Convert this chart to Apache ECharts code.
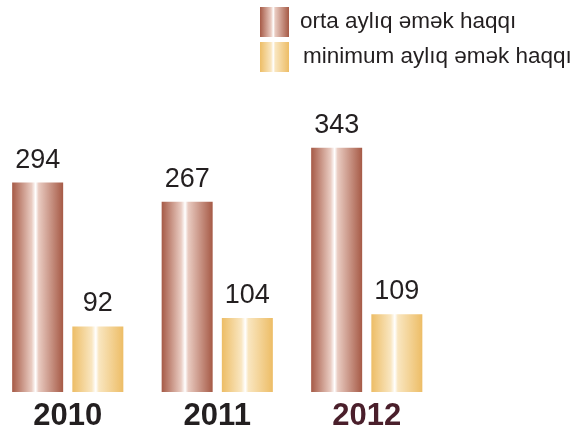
<!DOCTYPE html>
<html>
<head>
<meta charset="utf-8">
<script src="https://cdn.jsdelivr.net/npm/echarts@6/dist/echarts.min.js"></script>
<style>
  html, body { margin: 0; padding: 0; background: #fff; overflow: hidden; }
  /* shifted a few px left so the first bar can sit near the edge */
  #chart { width: 589px; height: 433px; margin-left: -7px; }
</style>
</head>
<body>
<div id="chart"></div>
<script>
// data
const years = ['2010', '2011', '2012'];
const seriesNames = ['orta aylıq əmək haqqı', 'minimum aylıq əmək haqqı'];
const avgWage = [294, 267, 343];
const minWage = [92, 104, 109];

const FONT = 'Liberation Sans, Arial, sans-serif';

// cylinder-ish horizontal gradient, white streak a bit left of center
function shade(edge, mid) {
  return new echarts.graphic.LinearGradient(0, 0, 1, 0, [
    { offset: 0, color: edge },
    { offset: 0.38, color: mid },
    { offset: 0.46, color: '#ffffff' },
    { offset: 0.52, color: mid },
    { offset: 1, color: edge },
  ]);
}

const chart = echarts.init(document.getElementById('chart'), null, { renderer: 'canvas' });

const labelStyle = {
  show: true,
  position: 'top',
  distance: 9,
  fontSize: 27,
  fontFamily: FONT,
  color: '#231f20',
};

chart.setOption({
  backgroundColor: '#ffffff',
  animation: false,
  legend: {
    orient: 'vertical',
    left: 267,
    top: 7,
    padding: 0,
    icon: 'rect',
    itemWidth: 29,
    itemHeight: 30,
    itemGap: 5,
    textStyle: { fontSize: 22.5, fontFamily: FONT, color: '#231f20', padding: [0, 0, 0, 6] },
    data: [
      { name: seriesNames[0] },
      { name: seriesNames[1], textStyle: { padding: [0, 0, 0, 9] } },
    ],
  },
  grid: { left: 0, width: 448.5, top: 100, bottom: 41 },
  xAxis: {
    type: 'category',
    data: years.map((y, i) => ({
      value: y,
      textStyle: { color: i === 2 ? '#4a1f2b' : '#231f20' },
    })),
    axisLine: { show: false },
    axisTick: { show: false },
    axisLabel: { fontSize: 31, fontWeight: 'bold', fontFamily: FONT, margin: 9 },
  },
  yAxis: {
    type: 'value',
    min: 0,
    max: 410,
    show: false,
    splitLine: { show: false },
  },
  series: [
    {
      name: seriesNames[0],
      type: 'bar',
      data: avgWage,
      barWidth: 51,
      barGap: '18%',
      itemStyle: { color: shade('#a65a46', '#e9cbc1') },
      label: labelStyle,
    },
    {
      name: seriesNames[1],
      type: 'bar',
      data: minWage,
      barWidth: 51,
      barGap: '18%',
      itemStyle: { color: shade('#edbd66', '#f9e6c0') },
      label: labelStyle,
    },
  ],
});
</script>
</body>
</html>
